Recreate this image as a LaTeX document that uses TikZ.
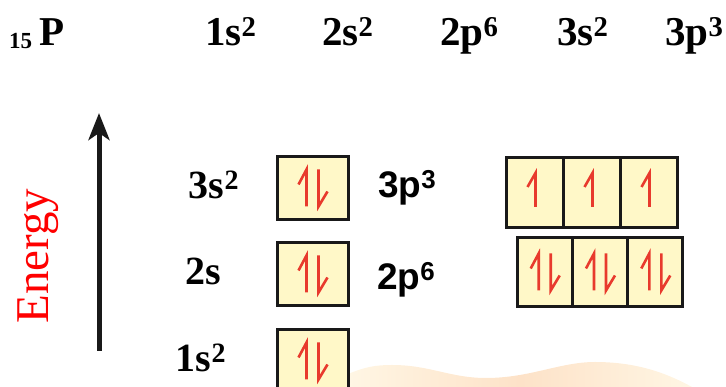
\documentclass[tikz,border=0pt]{standalone}
\usepackage{fontspec}
\setmainfont{Liberation Serif}
\setsansfont{Liberation Sans}
\usetikzlibrary{positioning,arrows.meta}
\definecolor{BoxFill}{RGB}{255,248,200}
\definecolor{BoxLine}{RGB}{25,25,25}
\definecolor{Spin}{RGB}{232,58,45}
\definecolor{Peach}{RGB}{253,226,200}
\definecolor{PeachLight}{RGB}{255,246,228}

\begin{document}
\begin{tikzpicture}[x=1pt,y=1pt,
    sbox/.style={rectangle,draw=BoxLine,line width=3pt,fill=BoxFill,
                 minimum width=71pt,minimum height=63pt,inner sep=0pt,outer sep=0pt},
    pbox/.style={rectangle,draw=BoxLine,line width=3pt,fill=BoxFill,
                 minimum width=57pt,minimum height=70pt,inner sep=0pt,outer sep=0pt},
    config/.style={anchor=base west,inner sep=0pt,font=\fontsize{41}{41}\selectfont\bfseries},
    shell/.style={anchor=base,inner sep=0pt,font=\fontsize{40}{40}\selectfont\bfseries},
    subshell/.style={anchor=base west,inner sep=0pt,font=\fontsize{37}{37}\selectfont\sffamily\bfseries},
    spin/.style={Spin,line width=2.6pt},
    axis/.style={-{Stealth[length=27pt,width=21pt,inset=7pt]},line width=5pt,BoxLine},
    pairspin/.pic={\draw[spin] (-6,-18) -- (-6,19) -- (-14,4);
                   \draw[spin] (6,19) -- (6,-18) -- (15,-3);},
    upspin/.pic={\draw[spin] (1,-14) -- (1,20) -- (-7,6);}
]
\useasboundingbox (0,0) rectangle (726,387);

% Background wave
\shade[left color=PeachLight,right color=PeachLight,middle color=Peach]
    (348,0) -- (348,13) .. controls (365,20) and (375,22) .. (392,22)
    .. controls (430,22) and (450,9) .. (486,9)
    .. controls (530,9) and (560,25) .. (595,25)
    .. controls (640,25) and (670,12) .. (692,0) -- cycle;

% Configuration row
\node[config] (elem) at (9,341) {{\fontsize{23}{23}\selectfont\raisebox{-3pt}{15}}\,P};
\node[config] (c1s) at (205,341) {1s\textsuperscript{2}};
\node[config] (c2s) at (322,341) {2s\textsuperscript{2}};
\node[config] (c2p) at (440,341) {2p\textsuperscript{6}};
\node[config] (c3s) at (557,341) {3s\textsuperscript{2}};
\node[config] (c3p) at (665,341) {3p\textsuperscript{3}};

% Energy axis
\coordinate (elow) at (99,36);
\coordinate (ehigh) at (99,274);
\draw[axis] (elow) -- (ehigh);
\node[rotate=90,anchor=base,inner sep=0pt,red,font=\fontsize{47}{47}\selectfont] (energy) at (48,131) {Energy};

% s orbitals
\node[sbox] (s3) at (312.5,198.5) {};
\node[sbox] (s2) at (312.5,112.5) {};
\node[sbox] (s1) at (312.5,25.5) {};
\node[shell] (l3s) at (214,188) {3s\textsuperscript{2}};
\node[shell] (l2s) at (203.5,102) {2s};
\node[shell] (l1s) at (201,15) {1s\textsuperscript{2}};

% 3p orbitals
\node[pbox] (p3a) at (534.5,194) {};
\node[pbox,right=0pt of p3a] (p3b) {};
\node[pbox,right=0pt of p3b] (p3c) {};
\node[subshell] (l3p) at (378,189) {3p\textsuperscript{3}};

% 2p orbitals
\node[pbox,minimum width=55.3pt,minimum height=69pt] (p2a) at (544.7,114.5) {};
\node[pbox,minimum width=55.3pt,minimum height=69pt,right=0pt of p2a] (p2b) {};
\node[pbox,minimum width=55.3pt,minimum height=69pt,right=0pt of p2b] (p2c) {};
\node[subshell] (l2p) at (377,97) {2p\textsuperscript{6}};

% Electrons
\pic at (s3) {pairspin};
\pic at (s2) {pairspin};
\pic at (s1) {pairspin};
\pic at (p2a) {pairspin};
\pic at (p2b) {pairspin};
\pic at (p2c) {pairspin};
\pic at (p3a) {upspin};
\pic at (p3b) {upspin};
\pic at (p3c) {upspin};

\end{tikzpicture}
\end{document}
